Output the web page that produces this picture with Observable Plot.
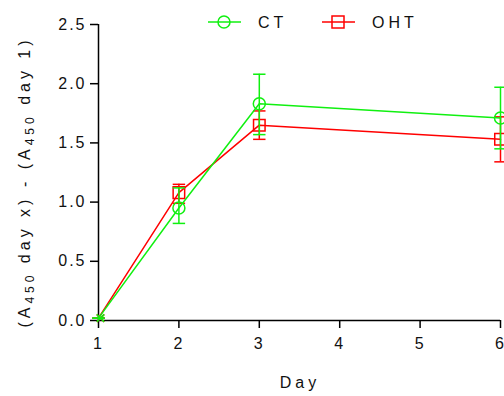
<!DOCTYPE html>
<html>
<head>
<meta charset="utf-8">
<script src="https://cdn.jsdelivr.net/npm/d3@7"></script>
<script src="https://cdn.jsdelivr.net/npm/@observablehq/plot@0.6"></script>
<style>
  html, body { margin: 0; padding: 0; background: #fff; }
  #chart { position: relative; width: 504px; height: 396px; }
</style>
</head>
<body>
<div id="chart"></div>
<script>
const days = [1, 2, 3, 6];
const seriesNames = ["OHT", "CT"];
const ctMean = [0.02, 0.95, 1.83, 1.71];
const ctLow  = [0.02, 0.82, 1.57, 1.45];
const ctHigh = [0.02, 1.12, 2.08, 1.97];
const ohtMean = [0.02, 1.08, 1.65, 1.53];
const ohtLow  = [0.02, 0.99, 1.53, 1.34];
const ohtHigh = [0.02, 1.15, 1.77, 1.72];
const xTicks = [1, 2, 3, 4, 5, 6];
const yTicks = [0, 0.5, 1.0, 1.5, 2.0, 2.5];
const colors = {CT: "#10f010", OHT: "#ff0000"};

const rows = [];
days.forEach((d, i) => rows.push({series: "OHT", day: d, mean: ohtMean[i], low: ohtLow[i], high: ohtHigh[i]}));
days.forEach((d, i) => rows.push({series: "CT", day: d, mean: ctMean[i], low: ctLow[i], high: ctHigh[i]}));

const capSymbol = {
  draw(context, size) {
    const r = Math.sqrt(size) / 2;
    context.moveTo(-r, 0);
    context.lineTo(r, 0);
  }
};

const font = "Liberation Sans, Arial, sans-serif";
const marks = [];
for (const s of seriesNames) {
  const data = rows.filter(r => r.series === s);
  const c = colors[s];
  const sym = s === "CT" ? "circle" : "square";
  marks.push(
    Plot.ruleX(data, {x: "day", y1: "low", y2: "high", stroke: c, strokeWidth: 1.5}),
    Plot.dot(data, {x: "day", y: "low", symbol: capSymbol, r: 7, stroke: c, strokeWidth: 1.5}),
    Plot.dot(data, {x: "day", y: "high", symbol: capSymbol, r: 7, stroke: c, strokeWidth: 1.5}),
    Plot.line(data, {x: "day", y: "mean", stroke: c, strokeWidth: 1.5}),
    Plot.dot(data.filter(d => d.day > 1), {x: "day", y: "mean", stroke: c, fill: "none", strokeWidth: 1.5,
      symbol: sym, r: s === "CT" ? 6 : 6.5}),
    Plot.dot(data.filter(d => d.day === 1), {x: "day", y: "mean", stroke: c, fill: "none", strokeWidth: 1.5,
      symbol: "times", r: 3.5, dx: 2})
  );
}

const chart = Plot.plot({
  width: 504,
  height: 396,
  marginLeft: 98,
  marginRight: 4,
  marginTop: 24,
  marginBottom: 76,
  style: {fontFamily: font, fontSize: "16px", background: "#fff", overflow: "visible"},
  x: {domain: [1, 6]},
  y: {domain: [0, 2.5]},
  marks: [
    Plot.axisX({ticks: xTicks, tickSize: 8, tickPadding: 9, fontSize: 16, stroke: "#000", strokeWidth: 1.5, label: null, tickFormat: d3.format("d")}),
    Plot.axisY({ticks: yTicks, tickSize: 8, tickPadding: 4, fontSize: 16, stroke: "#000", strokeWidth: 1.5, label: null, tickFormat: d3.format(".1f")}),
    Plot.ruleX([1], {stroke: "#000", strokeWidth: 1.5}),
    Plot.ruleY([0], {stroke: "#000", strokeWidth: 1.5}),
    ...marks
  ]
});

document.getElementById("chart").appendChild(chart);
const svg = d3.select(chart);
svg.selectAll("text")
  .style("font-size", "16px").attr("letter-spacing", "2px").attr("fill", "#111");

// Axis titles
svg.append("text")
  .attr("x", 300).attr("y", 388)
  .attr("text-anchor", "middle")
  .attr("font-family", font).attr("font-size", 16).attr("letter-spacing", "4px")
  .attr("fill", "#111")
  .text("Day");

const yl = svg.append("text")
  .attr("transform", "translate(30,182) rotate(-90)")
  .attr("text-anchor", "middle")
  .attr("font-family", font).attr("font-size", 16).attr("letter-spacing", "4px")
  .attr("fill", "#111");
yl.append("tspan").text("(A");
yl.append("tspan").attr("font-size", 12).attr("dy", 4).text("450");
yl.append("tspan").attr("dy", -4).text(" day x) - (A");
yl.append("tspan").attr("font-size", 12).attr("dy", 4).text("450");
yl.append("tspan").attr("dy", -4).text(" day 1)");

// Legend
const legend = [
  {name: "CT", x0: 208, tx: 258, sym: "circle"},
  {name: "OHT", x0: 322, tx: 372, sym: "square"}
];
const lg = svg.append("g").attr("font-family", font).attr("text-anchor", "start");
for (const l of legend) {
  const c = colors[l.name];
  const cy = 22;
  lg.append("line").attr("x1", l.x0).attr("x2", l.x0 + 33).attr("y1", cy).attr("y2", cy)
    .attr("stroke", c).attr("stroke-width", 1.5);
  if (l.sym === "circle") {
    lg.append("circle").attr("cx", l.x0 + 16).attr("cy", cy).attr("r", 6)
      .attr("fill", "none").attr("stroke", c).attr("stroke-width", 1.5);
  } else {
    lg.append("rect").attr("x", l.x0 + 10).attr("y", cy - 6).attr("width", 12).attr("height", 12)
      .attr("fill", "none").attr("stroke", c).attr("stroke-width", 1.5);
  }
  lg.append("text").attr("x", l.tx).attr("y", cy + 6).attr("font-size", 16)
    .attr("text-anchor", "start")
    .attr("letter-spacing", "4px").attr("fill", "#111").text(l.name);
}
</script>
</body>
</html>
